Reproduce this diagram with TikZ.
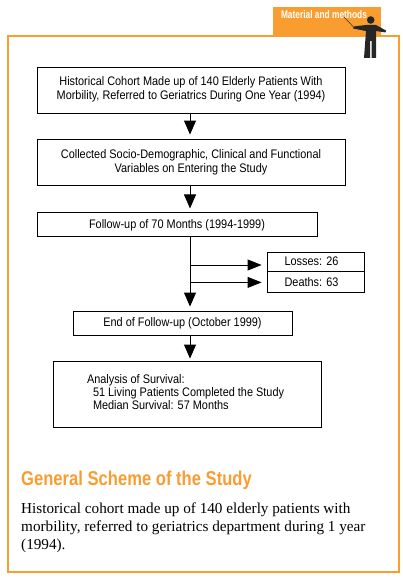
\documentclass[tikz,border=0pt]{standalone}
\usepackage{fontspec}
\setmainfont[FakeStretch=0.88]{Liberation Sans}
\newfontfamily\bodyfont{Liberation Serif}
\usetikzlibrary{positioning,arrows.meta}
\definecolor{framecolor}{HTML}{F99D31}
\tikzset{node distance=26pt, x=1pt, y=-1pt,
  box/.style={draw, line width=0.9pt, inner sep=0pt, align=center, font=\fontsize{12.4}{14.2}\selectfont},
  flow/.style={line width=0.9pt, shorten >=4pt, -{Triangle[length=14pt,width=12pt]}},
  side/.style={line width=0.9pt, shorten >=5pt, -{Triangle[length=14pt,width=11pt]}}}

\begin{document}
\begin{tikzpicture}

           \useasboundingbox (0,0) rectangle (402,578);

           \fill[framecolor] (273,7) rectangle (381,36);
           \draw[framecolor, line width=2.2pt] (8,36) rectangle (399,572);
           \node (tab) at (324,15) [text=white, font=\fontsize{11}{12}\selectfont\bfseries] {\addfontfeature{FakeStretch=0.76}Material and methods};

           \node (cohort) at (191,90) [box, minimum width=308pt, minimum height=46pt] {Historical Cohort Made up of 140 Elderly Patients With\\Morbility, Referred to Geriatrics During One Year (1994)\rule[-4pt]{0pt}{4pt}};
           \node (variables) [box, minimum width=308pt, minimum height=46pt, below of=cohort, yshift=-26pt, node distance=46pt] {Collected Socio-Demographic, Clinical and Functional\\Variables on Entering the Study};
           \node (followup) [box, minimum width=280pt, minimum height=24pt, below=27pt of variables.south west, anchor=north west] {Follow-up of 70 Months (1994-1999)};
           \node (losses) at (315.5,261.5) [box, minimum width=97pt, minimum height=19pt] {\hspace*{-8pt}Losses: 26};
           \node (deaths) [box, minimum width=97pt, minimum height=21pt, below=0pt of losses] {\hspace*{-8pt}Deaths: 63};
           \node (endup) at (182.5,323) [box, minimum width=219pt, minimum height=24pt] {End of Follow-up (October 1999)};
           \node (analysis) at (187,394) [box, minimum width=268pt, minimum height=66pt, align=left, font=\fontsize{12.4}{13}\selectfont] {%
             \makebox[200pt][l]{Analysis of Survival:}\\
             \makebox[200pt][l]{\hspace{6pt}51 Living Patients Completed the Study}\\
             \makebox[200pt][l]{\hspace{6pt}Median Survival: 57 Months}\rule[-4pt]{0pt}{4pt}};

           \coordinate (spine) at (190,0);
           \draw[flow] (cohort.south -| spine) to (variables.north -| spine);
           \draw[flow] (variables.south -| spine) to (followup.north -| spine);
           \draw[flow] (followup.south -| spine) to (endup.north -| spine);
           \draw[flow, shorten >=2pt] (endup.south -| spine) to (analysis.north -| spine);
           \draw[side] (losses.west -| spine) ++(0,3.5) coordinate (lossesfork) to (lossesfork -| losses.west);
           \draw[side] (deaths.west -| spine) ++(0,0) coordinate (deathsfork) to (deathsfork -| deaths.west);

           \node (title) at (21,480) [anchor=west, inner sep=0pt, text=framecolor, font=\fontsize{20}{24}\selectfont\bfseries] {\addfontfeature{FakeStretch=0.83}General Scheme of the Study};
           \node (summary) at (21,503) [anchor=north west, inner sep=0pt, align=left, font=\bodyfont\fontsize{15.2}{18}\selectfont] {Historical cohort made up of 140 elderly patients with\\morbility, referred to geriatrics department during 1 year\\(1994).};

           % presenter figure
           \fill[black!85] (370.7,20) circle (3.8pt);
           \fill[black!85] (366,25) -- (376,25) -- (386,30.5) -- (385.5,32.5) -- (376,31) -- (376,58) -- (371.5,58) -- (371.5,41) -- (370,41) -- (370,58) -- (364,58) -- (366,31) -- (353,28.5) -- (353.5,26.5) -- cycle;
           \draw[black!85, line width=0.5pt] (353,26.5) -- (344,17);

         \end{tikzpicture}
\end{document}
